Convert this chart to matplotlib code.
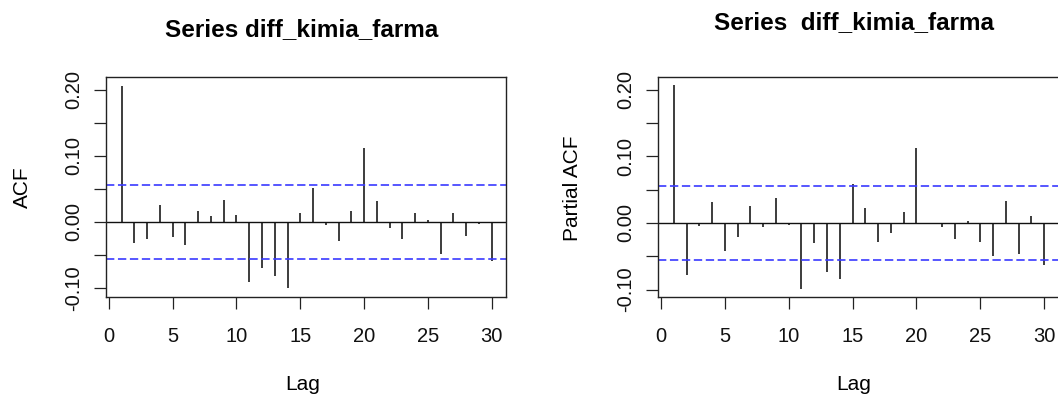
import numpy as np
import matplotlib
matplotlib.use("Agg")
import matplotlib.pyplot as plt

plt.rcParams['font.family'] = ['Liberation Sans', 'DejaVu Sans']
plt.rcParams['lines.scale_dashes'] = False

lags = np.arange(1, 31)
acf_vals = [0.205, -0.0315, -0.026, 0.026, -0.0235, -0.0355, 0.016, 0.0085, 0.0335, 0.0105,
            -0.091, -0.070, -0.0815, -0.1005, 0.014, 0.051, -0.0045, -0.0295, 0.016, 0.112,
            0.0315, -0.0085, -0.026, 0.014, 0.0025, -0.0485, 0.014, -0.022, -0.0025, -0.059]
pacf_vals = [0.2065, -0.0775, -0.0045, 0.0315, -0.0415, -0.0205, 0.026, -0.0065, 0.0375, -0.0025,
             -0.0985, -0.0295, -0.074, -0.0835, 0.058, 0.022, -0.028, -0.0145, 0.016, 0.112,
             0.0005, -0.0065, -0.024, 0.0025, -0.028, -0.049, 0.0335, -0.0465, 0.0105, -0.0625]
conf = 0.0555
xticks = [0, 5, 10, 15, 20, 25, 30]
yticks = [-0.10, -0.05, 0.00, 0.05, 0.10, 0.15, 0.20]
yticklabels = ['-0.10', '', '0.00', '', '0.10', '', '0.20']

W, H = 1058, 394
fig = plt.figure(figsize=(W / 100, H / 100), dpi=100)


def px_axes(left, top, right, bottom):
    return fig.add_axes([left / W, 1 - bottom / H, (right - left) / W, (bottom - top) / H])


def draw_panel(ax, vals, xlim, ylim):
    ax.vlines(lags, 0, vals, color='#111111', lw=1.15)
    ax.axhline(0, color='#111111', lw=1.0)
    ax.axhline(conf, color='#3a3aff', lw=1.2, ls=(0, (6, 2.6)))
    ax.axhline(-conf, color='#3a3aff', lw=1.2, ls=(0, (6, 2.6)))
    ax.set_xlim(*xlim)
    ax.set_ylim(*ylim)
    ax.set_xticks(xticks)
    ax.set_xticklabels([str(t) for t in xticks])
    ax.set_yticks(yticks)
    ax.set_yticklabels(yticklabels)
    ax.tick_params(axis='both', length=8.6, width=0.9, color='#222222', labelsize=14.5,
                   labelcolor='#111111')
    ax.tick_params(axis='x', pad=12.5)
    ax.tick_params(axis='y', pad=8, labelrotation=90)
    for lab in ax.get_yticklabels():
        lab.set_va('center')
    for s in ax.spines.values():
        s.set_linewidth(1.0)
        s.set_color('#222222')


ax1 = px_axes(106, 76.7, 506, 297.3)
draw_panel(ax1, acf_vals, (-0.23, 31.13), (-0.114, 0.2197))
ax2 = px_axes(658.3, 76.7, 1059, 297.3)
draw_panel(ax2, pacf_vals, (-0.21, 31.16), (-0.1115, 0.2195))

fig.text(302 / W, 1 - 36 / H, 'Series diff_kimia_farma', ha='center', va='baseline',
         fontsize=17.5, fontweight='bold')
fig.text(854 / W, 1 - 29.5 / H, 'Series  diff_kimia_farma', ha='center', va='baseline',
         fontsize=17.5, fontweight='bold')
fig.text(22.5 / W, 1 - 187.5 / H, 'ACF', rotation=90, ha='center', va='center', fontsize=15)
fig.text(573 / W, 1 - 188 / H, 'Partial ACF', rotation=90, ha='center', va='center', fontsize=15)
fig.text(302.5 / W, 1 - 390 / H, 'Lag', ha='center', va='baseline', fontsize=15)
fig.text(854 / W, 1 - 390 / H, 'Lag', ha='center', va='baseline', fontsize=15)

fig.savefig('out.png', dpi=100)
